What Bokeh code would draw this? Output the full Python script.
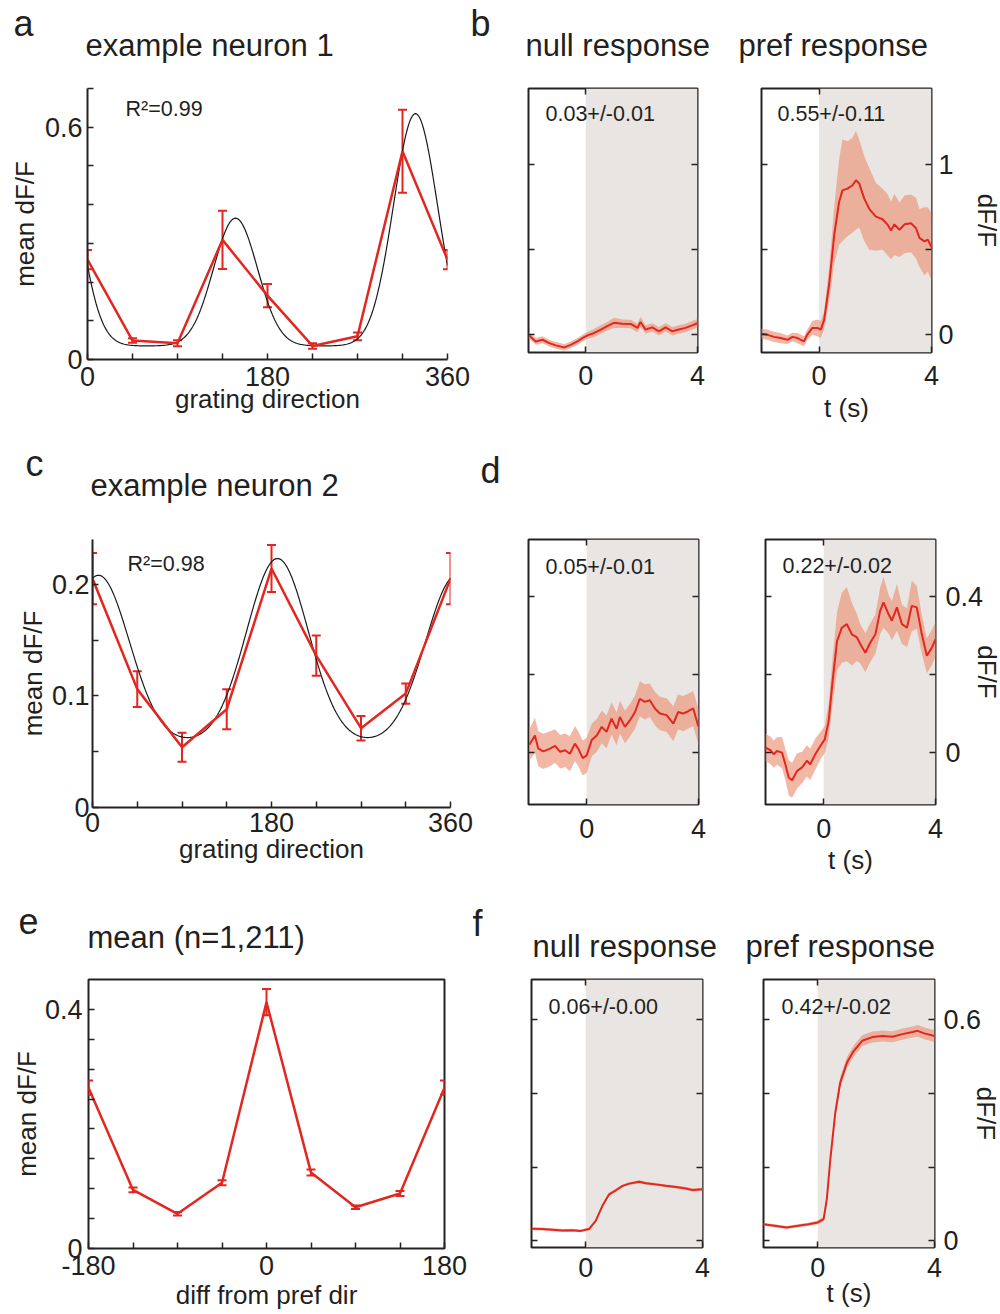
import numpy as np
from bokeh.plotting import figure
from bokeh.models import (Label, LinearAxis, FixedTicker, BoxAnnotation, Whisker,
                          TeeHead, ColumnDataSource, Range1d, NumeralTickFormatter)
from bokeh.layouts import column, row
from bokeh.embed import file_html
from bokeh.resources import INLINE

# ------------------------------------------------------------------ data
DIRECTIONS = [0, 45, 90, 135, 180, 225, 270, 315, 360]
N1_MEAN = [0.258, 0.049, 0.042, 0.309, 0.165, 0.035, 0.060, 0.538, 0.258]
N1_SEM = [0.025, 0.006, 0.008, 0.075, 0.030, 0.007, 0.010, 0.107, 0.025]
# double-Gaussian tuning fit: baseline, peak amplitudes, preferred direction, width
N1_FIT = dict(base=0.035, amp_pref=0.60, amp_null=0.33, pref=328.0, sigma=22.0)

N2_MEAN = [0.205, 0.106, 0.054, 0.088, 0.214, 0.136, 0.071, 0.102, 0.205]
N2_SEM = [0.023, 0.016, 0.013, 0.018, 0.021, 0.018, 0.011, 0.009, 0.023]
N2_FIT = dict(base=0.058, amp_pref=0.165, amp_null=0.150, pref=186.0, sigma=31.0)

DIFF_DIRS = [-180, -135, -90, -45, 0, 45, 90, 135, 180]
POP_MEAN = [0.269, 0.098, 0.058, 0.110, 0.412, 0.127, 0.069, 0.092, 0.269]
POP_SEM = [0.012, 0.004, 0.003, 0.004, 0.022, 0.005, 0.003, 0.004, 0.012]

STIM_ON, STIM_OFF = 0.0, 4.0

B_NULL_T = [-2.04, -1.79, -1.55, -1.31, -1.07, -0.77, -0.54, -0.30, -0.12, 0.06,
            0.30, 0.54, 0.77, 1.01, 1.31, 1.61, 1.85, 1.96, 2.14, 2.38,
            2.62, 2.86, 3.10, 3.33, 3.57, 3.81, 4.00]
B_NULL_M = [-0.004, -0.040, -0.030, -0.050, -0.063, -0.075, -0.060, -0.040, -0.020, -0.004,
            0.010, 0.030, 0.050, 0.070, 0.065, 0.063, 0.040, 0.075, 0.030, 0.043,
            0.020, 0.043, 0.020, 0.030, 0.040, 0.055, 0.067]
B_NULL_E = [0.020, 0.020, 0.020, 0.020, 0.020, 0.020, 0.020, 0.020, 0.020, 0.020,
            0.025, 0.025, 0.025, 0.030, 0.025, 0.025, 0.025, 0.030, 0.025, 0.025,
            0.025, 0.025, 0.025, 0.025, 0.025, 0.025, 0.025]

B_PREF_T = [-2.06, -1.85, -1.61, -1.37, -1.13, -0.95, -0.77, -0.54, -0.42, -0.24,
            -0.06, 0.06, 0.18, 0.36, 0.54, 0.71, 0.83, 1.01, 1.19, 1.31,
            1.43, 1.61, 1.79, 2.02, 2.26, 2.44, 2.56, 2.68, 2.86, 3.04,
            3.27, 3.45, 3.57, 3.75, 3.87, 4.00]
B_PREF_M = [0.006, 0.000, -0.013, -0.020, -0.030, -0.013, -0.020, -0.040, 0.000, 0.040,
            0.040, 0.030, 0.087, 0.300, 0.590, 0.780, 0.850, 0.860, 0.880, 0.910,
            0.890, 0.800, 0.740, 0.695, 0.680, 0.647, 0.614, 0.650, 0.618, 0.650,
            0.656, 0.627, 0.570, 0.550, 0.560, 0.515]
B_PREF_E = [0.030, 0.030, 0.030, 0.030, 0.025, 0.025, 0.030, 0.030, 0.030, 0.040,
            0.050, 0.050, 0.050, 0.100, 0.170, 0.250, 0.300, 0.280, 0.280, 0.290,
            0.260, 0.250, 0.240, 0.200, 0.180, 0.180, 0.170, 0.180, 0.160, 0.170,
            0.170, 0.180, 0.170, 0.200, 0.190, 0.200]

D_NULL_T = [-2.05, -1.85, -1.73, -1.55, -1.31, -1.13, -0.95, -0.77, -0.60, -0.42,
            -0.30, -0.14, 0.00, 0.18, 0.36, 0.54, 0.71, 0.89, 1.07, 1.19,
            1.37, 1.55, 1.73, 1.90, 2.08, 2.26, 2.44, 2.62, 2.86, 3.10,
            3.27, 3.45, 3.63, 3.81, 4.00]
D_NULL_M = [0.020, 0.044, 0.010, 0.003, 0.010, 0.017, 0.002, 0.006, -0.003, 0.023,
            0.010, -0.014, -0.007, 0.032, 0.044, 0.066, 0.053, 0.087, 0.061, 0.091,
            0.066, 0.083, 0.104, 0.138, 0.130, 0.134, 0.113, 0.100, 0.096, 0.074,
            0.104, 0.100, 0.106, 0.113, 0.066]
D_NULL_E = [0.040, 0.045, 0.045, 0.045, 0.045, 0.043, 0.043, 0.043, 0.045, 0.045,
            0.045, 0.045, 0.045, 0.042, 0.042, 0.042, 0.042, 0.042, 0.042, 0.042,
            0.042, 0.042, 0.042, 0.045, 0.045, 0.043, 0.043, 0.043, 0.043, 0.045,
            0.045, 0.045, 0.045, 0.045, 0.045]

D_PREF_T = [-2.08, -1.90, -1.79, -1.67, -1.49, -1.37, -1.25, -1.13, -0.95, -0.77,
            -0.60, -0.48, -0.30, -0.12, 0.04, 0.18, 0.32, 0.48, 0.65, 0.83,
            1.01, 1.19, 1.31, 1.49, 1.67, 1.85, 2.02, 2.14, 2.32, 2.44,
            2.62, 2.80, 2.98, 3.15, 3.33, 3.51, 3.69, 3.87, 4.00]
D_PREF_M = [0.013, 0.006, -0.004, 0.004, 0.000, -0.030, -0.064, -0.071, -0.047, -0.038,
            -0.021, -0.030, -0.004, 0.017, 0.034, 0.081, 0.184, 0.286, 0.320, 0.329,
            0.303, 0.295, 0.278, 0.256, 0.282, 0.303, 0.363, 0.385, 0.355, 0.338,
            0.372, 0.329, 0.320, 0.376, 0.372, 0.303, 0.248, 0.269, 0.291]
D_PREF_E = [0.035, 0.035, 0.035, 0.035, 0.040, 0.040, 0.045, 0.045, 0.045, 0.040,
            0.040, 0.040, 0.040, 0.035, 0.035, 0.045, 0.060, 0.075, 0.090, 0.095,
            0.080, 0.060, 0.050, 0.050, 0.050, 0.050, 0.060, 0.065, 0.050, 0.050,
            0.060, 0.050, 0.050, 0.065, 0.055, 0.050, 0.045, 0.045, 0.045]

F_NULL_T = [-1.85, -1.49, -1.14, -0.80, -0.46, -0.17, 0.11, 0.34, 0.57, 0.80,
            1.03, 1.26, 1.49, 1.83, 2.06, 2.40, 2.74, 3.09, 3.43, 3.66, 4.00]
F_NULL_M = [0.033, 0.032, 0.030, 0.028, 0.029, 0.027, 0.032, 0.054, 0.095, 0.126,
            0.137, 0.149, 0.155, 0.160, 0.156, 0.153, 0.149, 0.146, 0.142, 0.138, 0.140]
F_NULL_E = [0.004, 0.004, 0.004, 0.004, 0.004, 0.004, 0.004, 0.004, 0.004, 0.004,
            0.004, 0.004, 0.004, 0.004, 0.004, 0.004, 0.004, 0.004, 0.004, 0.004, 0.004]

F_PREF_T = [-1.86, -1.48, -1.07, -0.67, -0.32, 0.00, 0.20, 0.31, 0.43, 0.60,
            0.77, 1.00, 1.23, 1.52, 1.87, 2.21, 2.56, 2.90, 3.25, 3.42, 3.65, 4.00]
F_PREF_M = [0.045, 0.041, 0.036, 0.041, 0.045, 0.050, 0.059, 0.113, 0.221, 0.347,
            0.429, 0.483, 0.514, 0.542, 0.552, 0.555, 0.553, 0.560, 0.566, 0.569, 0.562, 0.555]
F_PREF_E = [0.004, 0.004, 0.004, 0.004, 0.004, 0.005, 0.006, 0.008, 0.010, 0.012,
            0.014, 0.015, 0.015, 0.015, 0.015, 0.015, 0.015, 0.015, 0.015, 0.016, 0.016, 0.016]

# ------------------------------------------------------------------ style
RED = "#e3261f"
BAND = "#ec9a7f"
GRAY = "#e8e5e2"
AXC = "#262223"
TXT = "#231f20"
FONT = "Liberation Sans"
LIFT = 10  # the renderer draws "alphabetic" labels about this many px below the anchor


def make_fig(fw, fh, bl, br, bt, bb, xr, yr, box):
    p = figure(frame_width=fw, frame_height=fh, min_border_left=bl, min_border_right=br,
               min_border_top=bt, min_border_bottom=bb, x_range=Range1d(*xr),
               y_range=Range1d(*yr), x_axis_type=None, y_axis_type=None, title=None,
               output_backend="svg", toolbar_location=None)
    p.background_fill_color = "white"
    p.border_fill_color = "white"
    p.outline_line_color = AXC if box else None
    p.outline_line_width = 2
    return p


def axis(p, side, major=(), minor=(), standoff=6, line=False, label=None, lstand=0):
    ax = LinearAxis(ticker=FixedTicker(ticks=list(major), minor_ticks=list(minor)),
                    formatter=NumeralTickFormatter(format="0.[0]"))
    ax.axis_line_color = AXC if line else None
    ax.axis_line_width = 2
    ax.major_tick_in = 6
    ax.major_tick_out = 0
    ax.minor_tick_in = 6
    ax.minor_tick_out = 0
    ax.major_tick_line_color = AXC
    ax.minor_tick_line_color = AXC
    ax.major_tick_line_width = 1.5
    ax.minor_tick_line_width = 1.5
    ax.major_label_text_font = FONT
    ax.major_label_text_font_size = "27px"
    ax.major_label_text_color = TXT
    ax.major_label_standoff = standoff
    if label is not None:
        ax.axis_label = label
        ax.axis_label_text_font = FONT
        ax.axis_label_text_font_size = "26px"
        ax.axis_label_text_font_style = "normal"
        ax.axis_label_text_color = TXT
        ax.axis_label_standoff = lstand
    p.add_layout(ax, side)
    return ax


def header(top, bottom, items):
    """Blank strip whose data coordinates equal page pixels; holds letters and titles."""
    h = figure(width=1000, height=bottom - top, x_range=Range1d(0, 1000),
               y_range=Range1d(bottom, top), min_border_left=0, min_border_right=0,
               min_border_top=0, min_border_bottom=0, x_axis_type=None, y_axis_type=None,
               title=None, output_backend="svg", toolbar_location=None)
    h.outline_line_color = None
    h.background_fill_color = "white"
    h.border_fill_color = "white"
    for x, y, text, size in items:
        h.add_layout(Label(x=x, y=y - LIFT, text=text, text_font=FONT,
                           text_font_size=f"{size}px", text_color=TXT,
                           text_align="left", text_baseline="alphabetic"))
    return h


def note(p, x, y, text):
    p.add_layout(Label(x=x, y=y + LIFT - 1, x_units="screen", y_units="screen", text=text,
                       text_font=FONT, text_font_size="21.5px", text_color=TXT,
                       text_align="left", text_baseline="alphabetic"))


def fit_curve(params, theta):
    th = np.asarray(theta, dtype=float)
    d1 = (th - params["pref"] + 180.0) % 360.0 - 180.0
    d2 = (th - (params["pref"] + 180.0) + 180.0) % 360.0 - 180.0
    s2 = 2.0 * params["sigma"] ** 2
    return (params["base"] + params["amp_pref"] * np.exp(-d1 ** 2 / s2)
            + params["amp_null"] * np.exp(-d2 ** 2 / s2))


def tuning(p, xs, mean, sem):
    lo = [m - s for m, s in zip(mean, sem)]
    hi = [m + s for m, s in zip(mean, sem)]
    src = ColumnDataSource(dict(x=xs, y=mean, lo=lo, hi=hi))
    p.line("x", "y", source=src, line_color=RED, line_width=2.5)
    p.add_layout(Whisker(source=src, base="x", lower="lo", upper="hi",
                         line_color=RED, line_width=2,
                         lower_head=TeeHead(size=9, line_color=RED, line_width=2),
                         upper_head=TeeHead(size=9, line_color=RED, line_width=2)))


def trace(p, t, m, e):
    lo = [a - b for a, b in zip(m, e)]
    hi = [a + b for a, b in zip(m, e)]
    p.add_layout(BoxAnnotation(left=STIM_ON, right=STIM_OFF, fill_color=GRAY, fill_alpha=1.0,
                               line_color=None, level="underlay"))
    p.varea(x=t, y1=lo, y2=hi, fill_color=BAND, fill_alpha=0.7)
    p.line(x=t, y=m, line_color=RED, line_width=2)


def trace_axes(p, ymajor, yminor, pref, bstand, rstand, tstand, dstand):
    allticks = list(ymajor) + list(yminor)
    axis(p, "above", minor=[STIM_ON])
    axis(p, "left", minor=allticks)
    if pref:
        axis(p, "below", major=[STIM_ON, STIM_OFF], standoff=bstand, label="t (s)", lstand=tstand)
        axis(p, "right", major=ymajor, minor=yminor, standoff=rstand, label="dF/F", lstand=dstand)
    else:
        axis(p, "below", major=[STIM_ON, STIM_OFF], standoff=bstand)
        axis(p, "right", minor=allticks)


theta = np.linspace(0, 360, 361)

# ------------------------------------------------------------------ header 1 + row 1
h1 = header(0, 74, [(13, 33, "a", 36), (85, 55, "example neuron 1", 31),
                    (470, 33, "b", 36), (525, 55, "null response", 31),
                    (738, 55, "pref response", 31)])

pa = make_fig(360, 271, 87, 33, 12, 71, (0, 360), (0, 0.7), box=False)
pa.line(theta, fit_curve(N1_FIT, theta), line_color="#1a1a1a", line_width=1.2)
tuning(pa, DIRECTIONS, N1_MEAN, N1_SEM)
axis(pa, "left", major=[0, 0.6], minor=[0.1, 0.2, 0.3, 0.4, 0.5, 0.7], standoff=5, line=True,
     label="mean dF/F", lstand=2)
axis(pa, "below", major=[0, 180, 360], minor=[45, 90, 135, 225, 270, 315], standoff=7, line=True,
     label="grating direction", lstand=-5)
note(pa, 38, 242, "R²=0.99")

yb = (-0.105, 1.45)
pb1 = make_fig(169, 264, 48, 33, 14, 76, (-2.05, 4), yb, box=True)
trace(pb1, B_NULL_T, B_NULL_M, B_NULL_E)
trace_axes(pb1, [0, 1], [0.5], False, 13, 7, 0, 0)
note(pb1, 17, 230, "0.03+/-0.01")

pb2 = make_fig(170, 264, 31, 69, 14, 76, (-2.05, 4), yb, box=True)
trace(pb2, B_PREF_T, B_PREF_M, B_PREF_E)
trace_axes(pb2, [0, 1], [0.5], True, 13, 7, 5, 15)
note(pb2, 16, 230, "0.55+/-0.11")

# ------------------------------------------------------------------ header 2 + row 2
h2 = header(428, 508, [(25, 473, "c", 36), (90, 495, "example neuron 2", 31),
                       (480, 480, "d", 36)])

pc = make_fig(358, 268, 92, 30, 26, 78, (0, 360), (0, 0.24), box=False)
pc.line(theta, fit_curve(N2_FIT, theta), line_color="#1a1a1a", line_width=1.2)
tuning(pc, DIRECTIONS, N2_MEAN, N2_SEM)
axis(pc, "left", major=[0, 0.1, 0.2], minor=[0.05, 0.15], standoff=3, line=True,
     label="mean dF/F", lstand=1)
axis(pc, "below", major=[0, 180, 360], minor=[45, 90, 135, 225, 270, 315], standoff=5, line=True,
     label="grating direction", lstand=-1)
note(pc, 35, 235, "R²=0.98")

yd = (-0.133, 0.546)
pd1 = make_fig(170, 265, 48, 32, 30, 77, (-2.08, 4), yd, box=True)
trace(pd1, D_NULL_T, D_NULL_M, D_NULL_E)
trace_axes(pd1, [0, 0.4], [0.2], False, 14, 10, 0, 0)
note(pd1, 17, 229, "0.05+/-0.01")

pd2 = make_fig(170, 265, 35, 65, 31, 76, (-2.08, 4), yd, box=True)
trace(pd2, D_PREF_T, D_PREF_M, D_PREF_E)
trace_axes(pd2, [0, 0.4], [0.2], True, 14, 10, 4, -14)
note(pd2, 17, 230, "0.22+/-0.02")

# ------------------------------------------------------------------ header 3 + row 3
h3 = header(880, 968, [(18, 930, "e", 36), (87, 947, "mean (n=1,211)", 31),
                       (472, 933, "f", 36), (532, 956, "null response", 31),
                       (745, 956, "pref response", 31)])

pe = make_fig(356, 269, 88, 36, 11, 66, (-180, 180), (0, 0.45), box=True)
tuning(pe, DIFF_DIRS, POP_MEAN, POP_SEM)
axis(pe, "left", major=[0, 0.4], minor=[0.05, 0.1, 0.15, 0.2, 0.25, 0.3, 0.35], standoff=6,
     label="mean dF/F", lstand=0)
axis(pe, "below", major=[-180, 0, 180], minor=[-135, -90, -45, 45, 90, 135], standoff=7,
     label="diff from pref dir", lstand=2)

yf = (-0.018, 0.708)
pf1 = make_fig(171, 268, 51, 28, 11, 67, (-1.86, 4), yf, box=True)
trace(pf1, F_NULL_T, F_NULL_M, F_NULL_E)
trace_axes(pf1, [0, 0.6], [0.2, 0.4], False, 10, 9, 0, 0)
note(pf1, 17, 232, "0.06+/-0.00")

pf2 = make_fig(171, 268, 33, 66, 11, 67, (-1.86, 4), yf, box=True)
trace(pf2, F_PREF_T, F_PREF_M, F_PREF_E)
trace_axes(pf2, [0, 0.6], [0.2, 0.4], True, 10, 9, -2, -13)
note(pf2, 18, 232, "0.42+/-0.02")

layout = column(h1, row(pa, pb1, pb2), h2, row(pc, pd1, pd2), h3, row(pe, pf1, pf2))
open("out.html", "w").write(file_html(layout, INLINE))
